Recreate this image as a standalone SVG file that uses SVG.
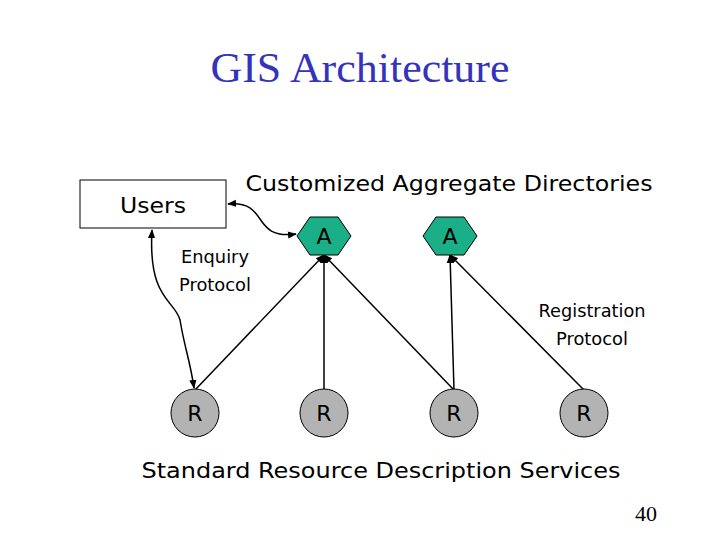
<svg xmlns="http://www.w3.org/2000/svg" width="720" height="540" viewBox="0 0 720 540">
<style>
.t{font-family:"DejaVu Sans",sans-serif;fill:#000}
.hex{fill:#1aaf86;stroke:#000;stroke-width:1}
.r{fill:#b3b3b3;stroke:#000;stroke-width:1}
.ln{stroke:#000;stroke-width:1.5;fill:none}
</style>
<defs>
<marker id="ah" viewBox="0 0 10 10" refX="9" refY="5" markerWidth="6" markerHeight="6" orient="auto-start-reverse"><path d="M0,1 L10,5 L0,9 z" fill="#000"/></marker>
</defs>
<rect width="720" height="540" fill="#fff"/>
<text x="360" y="82" text-anchor="middle" font-family="Liberation Serif,serif" font-size="42" fill="#3333bb" textLength="299" lengthAdjust="spacingAndGlyphs">GIS Architecture</text>
<text class="t" x="449" y="191" text-anchor="middle" font-size="22" textLength="407" lengthAdjust="spacingAndGlyphs">Customized Aggregate Directories</text>
<text class="t" x="215" y="263" text-anchor="middle" font-size="17" textLength="68" lengthAdjust="spacingAndGlyphs">Enquiry</text>
<text class="t" x="215" y="291" text-anchor="middle" font-size="17" textLength="72" lengthAdjust="spacingAndGlyphs">Protocol</text>
<text class="t" x="592" y="317" text-anchor="middle" font-size="17" textLength="107" lengthAdjust="spacingAndGlyphs">Registration</text>
<text class="t" x="592" y="345" text-anchor="middle" font-size="17" textLength="72" lengthAdjust="spacingAndGlyphs">Protocol</text>
<text class="t" x="381" y="478" text-anchor="middle" font-size="22" textLength="479" lengthAdjust="spacingAndGlyphs">Standard Resource Description Services</text>
<text x="646" y="521" text-anchor="middle" font-family="Liberation Serif,serif" font-size="22">40</text>
<g id="connectors">
<path class="ln" d="M195,390 L324,255" marker-end="url(#ah)"/>
<path class="ln" d="M324,390 L324,255" marker-end="url(#ah)"/>
<path class="ln" d="M454,390 L324,255" marker-end="url(#ah)"/>
<path class="ln" d="M454,390 L450,255" marker-end="url(#ah)"/>
<path class="ln" d="M584,390 L450,255" marker-end="url(#ah)"/>
<path class="ln" d="M228,204 C270,200 250,240 296,234" marker-start="url(#ah)" marker-end="url(#ah)"/>
<path class="ln" d="M152,230 C148,300 175,300 180,320 C185,350 190,360 194,388" marker-start="url(#ah)" marker-end="url(#ah)"/>
</g>
<g id="users"><rect x="80" y="180" width="146" height="48" fill="#fff" stroke="#000"/><text class="t" x="153" y="213" text-anchor="middle" font-size="22" textLength="66" lengthAdjust="spacingAndGlyphs">Users</text></g>
<g id="a1"><polygon class="hex" points="297,236 310,217 338,217 351,236 338,255 310,255"/><text class="t" x="324" y="244" text-anchor="middle" font-size="22">A</text></g>
<g id="a2"><polygon class="hex" points="423,236 436,217 464,217 477,236 464,255 436,255"/><text class="t" x="450" y="244" text-anchor="middle" font-size="22">A</text></g>
<g id="r1"><circle class="r" cx="195" cy="413" r="24"/><text class="t" x="195" y="421" text-anchor="middle" font-size="22">R</text></g>
<g id="r2"><circle class="r" cx="324" cy="413" r="24"/><text class="t" x="324" y="421" text-anchor="middle" font-size="22">R</text></g>
<g id="r3"><circle class="r" cx="454" cy="413" r="24"/><text class="t" x="454" y="421" text-anchor="middle" font-size="22">R</text></g>
<g id="r4"><circle class="r" cx="584" cy="413" r="24"/><text class="t" x="584" y="421" text-anchor="middle" font-size="22">R</text></g>
</svg>
